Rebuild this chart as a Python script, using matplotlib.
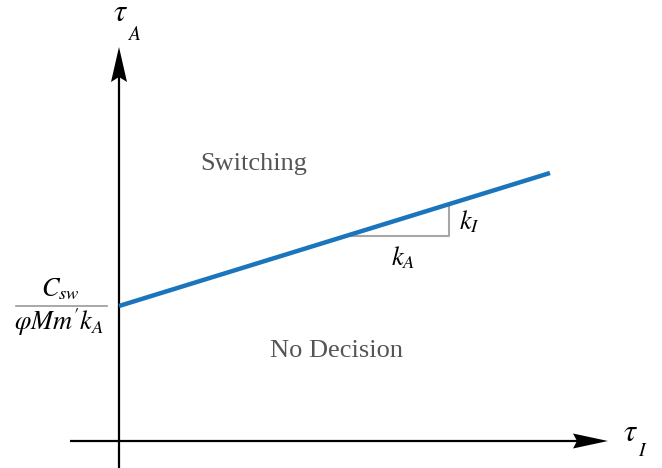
import numpy as np
import matplotlib.pyplot as plt
from matplotlib.patches import Polygon

plt.rcParams['mathtext.fontset'] = 'stix'
plt.rcParams['font.family'] = 'Liberation Serif'

# threshold line tau_A = f(tau_I)
tau_I = [0, 431]
tau_A = [135, 268]

# slope triangle (run along tau_I)
tri_I = [226, 330]

# region labels
region_names = ["Switching", "No Decision"]
region_I = [135, 218]
region_A = [271, 84]

blue = "#1b75bc"
gray = "#555555"

fig = plt.figure(figsize=(6.62, 4.68), dpi=100)
ax = fig.add_axes([0, 0, 1, 1])
ax.set_xlim(-119, 543)
ax.set_ylim(-27, 441)
ax.axis('off')

# axes with arrow heads
ax.plot([-49, 460], [0, 0], color='black', lw=1.6, solid_capstyle='butt')
ax.plot([0, 0], [-27, 370], color='black', lw=1.6, solid_capstyle='butt')
ax.add_patch(Polygon([(489, 0), (454, 7.5), (458, 0), (454, -7.5)],
                     closed=True, color='black', lw=0))
ax.add_patch(Polygon([(0, 394), (-8, 359), (0, 364), (8, 359)],
                     closed=True, color='black', lw=0))

ax.text(504, 0, r'$\tau$', fontsize=22, ha='left', va='baseline')
ax.text(519, -15, r'$I$', fontsize=14, ha='left', va='baseline')
ax.text(-6, 420, r'$\tau$', fontsize=22, ha='left', va='baseline')
ax.text(8, 401, r'$A$', fontsize=14, ha='left', va='baseline')

# slope triangle
a0, a1 = np.interp(tri_I, tau_I, tau_A)
ax.plot([tri_I[0], tri_I[1], tri_I[1]], [a0, a0, a1], color='#a6a6a6', lw=1.5)
ax.text(340, 212, r'$k_I$', fontsize=19, ha='left', va='baseline')
ax.text(272, 176, r'$k_A$', fontsize=19, ha='left', va='baseline')

# threshold line
ax.plot(tau_I, tau_A, color=blue, lw=3.2, solid_capstyle='butt')

# intercept label
ax.plot([-103, -12], [135, 135], color='#999999', lw=1.2)
ax.text(-59, 145, r'$C_{sw}$', fontsize=19, ha='center', va='baseline')
ax.text(-60, 111, r"$\varphi Mm'k_A$", fontsize=19, ha='center', va='baseline')

for name, x, y in zip(region_names, region_I, region_A):
    ax.text(x, y, name, fontsize=19, color=gray, ha='center', va='baseline')

fig.savefig('out.png', dpi=100)
